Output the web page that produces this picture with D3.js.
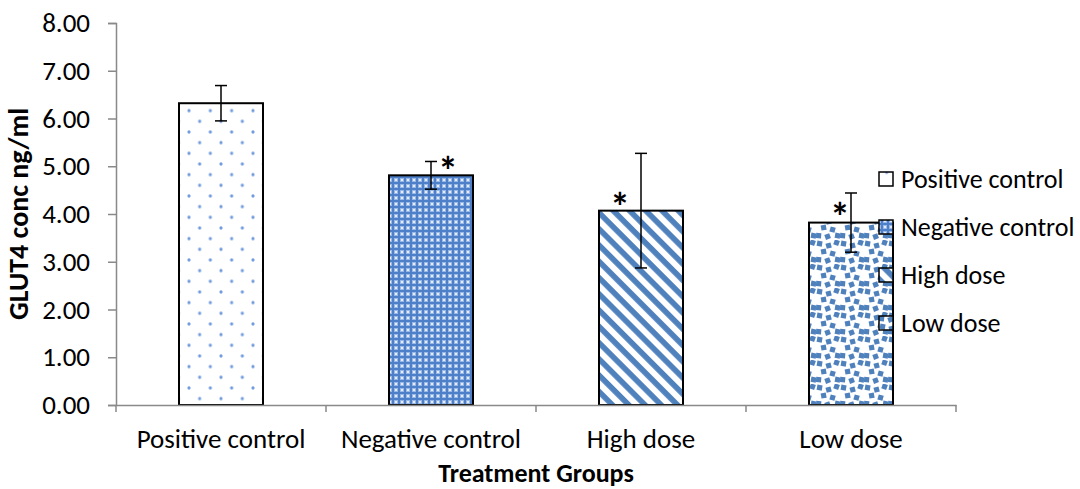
<!DOCTYPE html>
<html>
<head>
<meta charset="utf-8">
<script src="https://cdn.jsdelivr.net/npm/d3@7"></script>
<style>
    body { margin: 0; background: #fff; }
    #chart-container { width: 1080px; height: 489px; }
    text { font-family: Carlito, Lato, 'Liberation Sans', sans-serif; fill: #000; }
</style>
</head>
<body>
<div id="chart-container"></div>
<script>
// DATA
const groups = ['Positive control', 'Negative control', 'High dose', 'Low dose']
const means = [6.32, 4.81, 4.07, 3.82]
const errors = [0.37, 0.29, 1.20, 0.62]
const significant = [false, true, true, true]
const yTicks = [0, 1, 2, 3, 4, 5, 6, 7, 8]

// SETTINGS
const settings = {
    width: 1080,
    height: 489,
    plot: { left: 116, right: 956, top: 23, bottom: 405 },
    blue: '#4f81bd',
    axisColor: '#898989',
    fontSize: 27,
    legendFontSize: 26,
    // hand placed asterisk offsets (dx from bar centre, dy = centre above bar/err top)
    asterisk: [null, { dx: 17, from: 'err', dy: -1 }, { dx: -21, from: 'bar', dy: 12 }, { dx: -11, from: 'bar', dy: 14 }],
    legend: { x: 879, y: 179, step: 48, box: 14 }
}

const patterns = ['pat-pos', 'pat-neg', 'pat-high', 'pat-low']

const svg = d3.select('#chart-container').append('svg')
    .attr('width', settings.width)
    .attr('height', settings.height)

// PATTERNS
const defs = svg.append('defs')

const pos = defs.append('pattern').attr('id', 'pat-pos')
    .attr('patternUnits', 'userSpaceOnUse').attr('width', 21.33).attr('height', 21.33)
    .attr('x', 189).attr('y', 4)
pos.append('rect').attr('width', 21.33).attr('height', 21.33).attr('fill', '#fff')
pos.selectAll('circle')
    .data([[0, 0], [21.33, 0], [0, 21.33], [21.33, 21.33], [10.67, 10.67]])
    .enter().append('circle')
    .attr('cx', d => d[0]).attr('cy', d => d[1]).attr('r', 1.6).attr('fill', '#6f9ade')

const neg = defs.append('pattern').attr('id', 'pat-neg')
    .attr('patternUnits', 'userSpaceOnUse').attr('width', 6).attr('height', 6)
neg.append('rect').attr('width', 6).attr('height', 6).attr('fill', '#9ab8e6')
neg.append('rect').attr('x', 2).attr('y', 0).attr('width', 2).attr('height', 6).attr('fill', '#4d80c8')
neg.append('rect').attr('x', 0).attr('y', 2).attr('width', 6).attr('height', 2).attr('fill', '#4d80c8')
neg.selectAll('.w')
    .data([[0, 0], [5, 5], [5, 0], [0, 5]])
    .enter().append('rect')
    .attr('x', d => d[0]).attr('y', d => d[1]).attr('width', 1).attr('height', 1).attr('fill', '#e4ecf8')

const high = defs.append('pattern').attr('id', 'pat-high')
    .attr('patternUnits', 'userSpaceOnUse').attr('width', 11.5).attr('height', 11.5)
    .attr('patternTransform', 'rotate(45)')
high.append('rect').attr('width', 11.5).attr('height', 11.5).attr('fill', '#fff')
high.append('rect').attr('width', 11.5).attr('height', 5.6).attr('fill', settings.blue)

const low = defs.append('pattern').attr('id', 'pat-low')
    .attr('patternUnits', 'userSpaceOnUse').attr('width', 24).attr('height', 24)
low.append('rect').attr('width', 24).attr('height', 24).attr('fill', '#fff')
const confetti = [[1, 1, 10], [10, 3, -15], [18, 0, 20], [5, 9, -10], [14, 11, 15], [0, 17, 5], [9, 18, -20], [19, 17, 10]]
low.selectAll('.c').data(confetti).enter().append('rect')
    .attr('x', d => d[0]).attr('y', d => d[1])
    .attr('width', 5.2).attr('height', 5.2)
    .attr('transform', d => `rotate(${d[2]}, ${d[0] + 2.5}, ${d[1] + 2.5})`)
    .attr('fill', settings.blue)

// SCALES
const x = d3.scaleBand()
    .domain(groups)
    .range([settings.plot.left, settings.plot.right])
    .paddingInner(0.6)
    .paddingOuter(0.3)

const xTickScale = d3.scaleBand()
    .domain(groups)
    .range([settings.plot.left, settings.plot.right])

const y = d3.scaleLinear()
    .domain([0, 8])
    .range([settings.plot.bottom, settings.plot.top])

// AXES
const yAxis = d3.axisLeft(y).tickValues(yTicks).tickFormat(d3.format('.2f')).tickSize(8).tickPadding(18)
const yAxisGroup = svg.append('g')
    .attr('transform', `translate(${settings.plot.left}, 0)`)
    .call(yAxis)
yAxisGroup.select('.domain').attr('stroke', settings.axisColor).attr('stroke-width', 1.5)
yAxisGroup.selectAll('.tick line').attr('stroke', settings.axisColor).attr('stroke-width', 1.5)
yAxisGroup.selectAll('.tick text')
    .style('font-size', settings.fontSize + 'px')
    .style('font-family', null)
    .attr('x', -26)

// BARS
svg.selectAll('.bar')
    .data(groups)
    .enter().append('rect')
    .attr('class', 'bar')
    .attr('x', d => x(d))
    .attr('width', x.bandwidth())
    .attr('y', (d, i) => y(means[i]))
    .attr('height', (d, i) => y(0) - y(means[i]))
    .attr('fill', (d, i) => `url(#${patterns[i]})`)
    .attr('stroke', '#000')
    .attr('stroke-width', 2)

const xAxis = d3.axisBottom(xTickScale).tickSize(0).tickPadding(24)
const xAxisGroup = svg.append('g')
    .attr('transform', `translate(0, ${settings.plot.bottom})`)
    .call(xAxis)
xAxisGroup.select('.domain').attr('stroke', settings.axisColor).attr('stroke-width', 1.5)
xAxisGroup.selectAll('.tick text')
    .style('font-size', settings.fontSize + 'px')
    .style('font-family', null)

// category separators
svg.selectAll('.sep')
    .data(d3.range(groups.length + 1))
    .enter().append('line')
    .attr('x1', i => settings.plot.left + i * xTickScale.step())
    .attr('x2', i => settings.plot.left + i * xTickScale.step())
    .attr('y1', settings.plot.bottom)
    .attr('y2', settings.plot.bottom + 7)
    .attr('stroke', settings.axisColor)
    .attr('stroke-width', 1.5)

// ERROR BARS
const errGroup = svg.append('g').attr('stroke', '#000').attr('stroke-width', 1.5)
groups.forEach((g, i) => {
    const cx = x(g) + x.bandwidth() / 2
    const top = y(means[i] + errors[i])
    const bottom = y(means[i] - errors[i])
    errGroup.append('line').attr('x1', cx).attr('x2', cx).attr('y1', top).attr('y2', bottom)
    errGroup.append('line').attr('x1', cx - 6).attr('x2', cx + 6).attr('y1', top).attr('y2', top)
    errGroup.append('line').attr('x1', cx - 6).attr('x2', cx + 6).attr('y1', bottom).attr('y2', bottom)
})

// ASTERISKS
const starSize = 40
groups.forEach((g, i) => {
    if (!significant[i]) return
    const off = settings.asterisk[i]
    const cx = x(g) + x.bandwidth() / 2
    const ref = off.from === 'err' ? y(means[i] + errors[i]) : y(means[i])
    svg.append('text')
        .attr('x', cx + off.dx)
        .attr('y', ref - off.dy + starSize * 0.56)
        .attr('text-anchor', 'middle')
        .style('font-size', starSize + 'px')
        .style('font-weight', 'bold')
        .text('*')
})

// AXIS TITLES
svg.append('text')
    .attr('transform', `translate(28, ${(settings.plot.top + settings.plot.bottom) / 2}) rotate(-90)`)
    .attr('text-anchor', 'middle')
    .style('font-size', '28px')
    .style('font-weight', 'bold')
    .text('GLUT4 conc ng/ml')

svg.append('text')
    .attr('x', (settings.plot.left + settings.plot.right) / 2)
    .attr('y', 482)
    .attr('text-anchor', 'middle')
    .style('font-size', '26px')
    .style('font-weight', 'bold')
    .text('Treatment Groups')

// LEGEND
const legend = svg.selectAll('.legend')
    .data(groups)
    .enter().append('g')
    .attr('class', 'legend')
    .attr('transform', (d, i) => `translate(${settings.legend.x}, ${settings.legend.y + i * settings.legend.step})`)

legend.append('rect')
    .attr('x', 0)
    .attr('y', -settings.legend.box / 2)
    .attr('width', settings.legend.box)
    .attr('height', settings.legend.box)
    .attr('fill', (d, i) => `url(#${patterns[i]})`)
    .attr('stroke', '#000')
    .attr('stroke-width', 1.5)

legend.append('text')
    .attr('x', 22)
    .attr('dy', '0.35em')
    .style('font-size', settings.legendFontSize + 'px')
    .text(d => d)
</script>
</body>
</html>
